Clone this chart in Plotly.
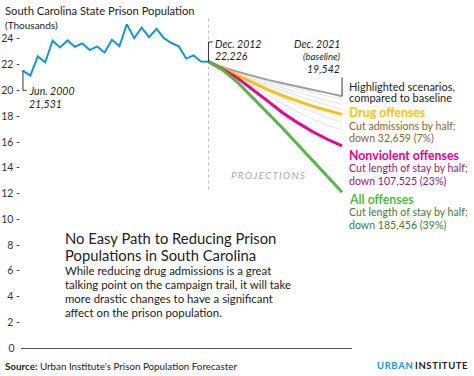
import plotly.graph_objects as go

# ---------------- data ----------------
hist_years = [2000.5 + 0.5 * i for i in range(26)]  # Jun 2000 .. Dec 2012, semi-annual
hist_values = [21.531, 21.14, 22.63, 22.17, 23.85, 23.33, 23.87, 23.38, 23.64, 23.12,
               23.41, 22.94, 23.92, 23.41, 25.13, 24.05, 24.87, 24.13, 24.77, 24.05,
               23.67, 23.41, 22.46, 22.71, 22.24, 22.226]

proj_years = [2013, 2014, 2015, 2016, 2017, 2018, 2019, 2020, 2021, 2022]  # Dec 2012 .. Dec 2021
baseline = [22.226, 21.78, 21.43, 21.09, 20.81, 20.55, 20.27, 20.04, 19.80, 19.542]
drug = [22.226, 21.68, 21.17, 20.58, 20.06, 19.58, 19.16, 18.77, 18.44, 18.13]
nonviolent = [22.226, 21.61, 20.91, 20.06, 19.16, 18.26, 17.49, 16.80, 16.20, 15.68]
all_off = [22.226, 21.53, 20.58, 19.42, 18.26, 17.05, 15.81, 14.58, 13.34, 12.08]

other_scenarios = [
    [22.226, 21.74, 21.36, 20.99, 20.68, 20.39, 20.09, 19.82, 19.56, 19.30],
    [22.226, 21.72, 21.30, 20.89, 20.52, 20.18, 19.83, 19.50, 19.19, 18.90],
    [22.226, 21.70, 21.25, 20.79, 20.37, 19.97, 19.57, 19.19, 18.84, 18.50],
    [22.226, 21.66, 21.10, 20.50, 19.92, 19.36, 18.82, 18.34, 17.90, 17.50],
    [22.226, 21.64, 21.02, 20.32, 19.62, 18.95, 18.32, 17.75, 17.30, 16.90],
]

y_tick_vals = [0, 2, 4, 6, 8, 10, 12, 14, 16, 18, 20, 22, 24]
y_tick_text = ["0\u00a0\u00a0", "2 -", "4 -", "6 -", "8 -", "10 -", "12 -", "14 -",
               "16 -", "18 -", "20 -", "22 -", "24 -"]

# ---------------- styling ----------------
FONT = "Lato"
BLUE = "#1696d2"
GRAY = "#9d9d9d"
YELLOW = "#fdbf11"
MAGENTA = "#ec008b"
GREEN = "#55b748"
TXT = "#222222"

W_TOT, H_TOT = 474, 376
L, R, T, B = 21, 122, 13, 28
PW, PH = W_TOT - L - R, H_TOT - T - B


def px(x, y):
    return (x - L) / PW, (H_TOT - B - y) / PH


fig = go.Figure()

for s in other_scenarios:
    fig.add_trace(go.Scatter(x=proj_years, y=s, mode="lines",
                             line=dict(color="#e3e3e3", width=1), hoverinfo="skip"))

fig.add_trace(go.Scatter(x=proj_years, y=baseline, mode="lines",
                         line=dict(color=GRAY, width=2)))
fig.add_trace(go.Scatter(x=proj_years, y=drug, mode="lines",
                         line=dict(color=YELLOW, width=3)))
fig.add_trace(go.Scatter(x=proj_years, y=nonviolent, mode="lines",
                         line=dict(color=MAGENTA, width=3)))
fig.add_trace(go.Scatter(x=proj_years, y=all_off, mode="lines",
                         line=dict(color=GREEN, width=3)))
fig.add_trace(go.Scatter(x=hist_years, y=hist_values, mode="lines",
                         line=dict(color=BLUE, width=2)))

shapes = []
# projections divider
shapes.append(dict(type="line", xref="x", yref="y", x0=hist_years[-1], x1=hist_years[-1],
                   y0=12.3, y1=25.6, line=dict(color="#bbbbbb", width=1, dash="dot"),
                   layer="below"))
# brackets
j0 = hist_years[0]
shapes.append(dict(type="line", xref="x", yref="y", x0=j0, x1=j0, y0=hist_values[0], y1=20.0,
                   line=dict(color="#333", width=1)))
shapes.append(dict(type="line", xref="x", yref="y", x0=j0, x1=j0 + 0.25, y0=20.0, y1=20.0,
                   line=dict(color="#333", width=1)))
d0 = hist_years[-1]
shapes.append(dict(type="line", xref="x", yref="y", x0=d0, x1=d0, y0=hist_values[-1], y1=23.75,
                   line=dict(color="#333", width=1)))
shapes.append(dict(type="line", xref="x", yref="y", x0=d0, x1=d0 + 0.3, y0=23.75, y1=23.75,
                   line=dict(color="#333", width=1)))
e0 = proj_years[-1]
shapes.append(dict(type="line", xref="x", yref="y", x0=e0, x1=e0, y0=baseline[-1], y1=21.0,
                   line=dict(color="#333", width=1)))

ann = []


def text(x, y, s, size, color=TXT, xanchor="left", italic=False, bold=False, family=FONT):
    xp, yp = px(x, y)
    st = s
    if bold:
        st = "<b>" + st + "</b>"
    if italic:
        st = "<i>" + st + "</i>"
    ann.append(dict(x=xp, y=yp, xref="paper", yref="paper", text=st, showarrow=False,
                    xanchor=xanchor, yanchor="middle", align=xanchor,
                    font=dict(family=family, size=size, color=color)))


text(3, 10, "South Carolina State Prison Population", 11.2)
text(3, 25, "(Thousands)", 10)

text(27, 91, "Jun. 2000", 10.5, italic=True)
text(27, 104, "21,531", 10.5, italic=True)
text(213, 44, "Dec. 2012", 10.5, italic=True)
text(213, 56, "22,226", 10.5, italic=True)
text(342, 44, "Dec. 2021", 10.5, xanchor="right", italic=True)
text(342, 56, "(baseline)", 9.5, xanchor="right", italic=True)
text(342, 69, "19,542", 10.5, xanchor="right", italic=True)

text(347, 86, "Highlighted scenarios,", 11)
text(347, 98, "compared to baseline", 11)
text(347, 113, "Drug offenses", 12.3, color=YELLOW, bold=True)
text(347, 126, "Cut admissions by half;", 10.6, color="#7d6a2c")
text(347, 138, "down 32,659 (7%)", 10.6, color="#7d6a2c")
text(347, 155, "Nonviolent offenses", 12.3, color=MAGENTA, bold=True)
text(347, 168, "Cut length of stay by half;", 10.6, color="#96206b")
text(347, 181, "down 107,525 (23%)", 10.6, color="#96206b")
text(347, 199, "All offenses", 12.3, color=GREEN, bold=True)
text(347, 212, "Cut length of stay by half;", 10.6, color="#3d7d36")
text(347, 225, "down 185,456 (39%)", 10.6, color="#3d7d36")

text(268, 175, "\u2009".join("PROJECTIONS"), 10, color="#aaaaaa",
     xanchor="center", italic=True)

text(63, 238, "No Easy Path to Reducing Prison", 14.8)
text(63, 255, "Populations in South Carolina", 14.8)
text(63, 270, "While reducing drug admissions is a great", 11.4)
text(63, 284, "talking point on the campaign trail, it will take", 11.4)
text(63, 298, "more drastic changes to have a significant", 11.4)
text(63, 312, "affect on the prison population.", 11.4)

text(3, 366, "<b>Source:</b> Urban Institute's Prison Population Forecaster", 9.8)
text(470, 366, "<span style='color:#1696d2'>" + "\u200a".join("URBAN") + "</span> "
     + "\u200a".join("INSTITUTE"), 9.5, xanchor="right", bold=True)

fig.update_layout(
    width=W_TOT, height=H_TOT,
    margin=dict(l=L, r=R, t=T, b=B, pad=0, autoexpand=False),
    paper_bgcolor="white", plot_bgcolor="white",
    showlegend=False,
    font=dict(family=FONT, color=TXT),
    xaxis=dict(range=[2000.37, 2022.67], showgrid=False, zeroline=False,
               showticklabels=False, showline=True, linecolor="#555555", linewidth=1,
               ticks="", automargin=False),
    yaxis=dict(range=[0, 26], showgrid=False, zeroline=False, tickvals=y_tick_vals,
               ticktext=y_tick_text, tickfont=dict(family=FONT, size=10.5, color="#333"),
               ticks="", showline=False, automargin=False),
    shapes=shapes,
    annotations=ann,
)

fig.write_html("out.html", config={"displayModeBar": False},
               post_script="document.body.style.margin='0px';")
